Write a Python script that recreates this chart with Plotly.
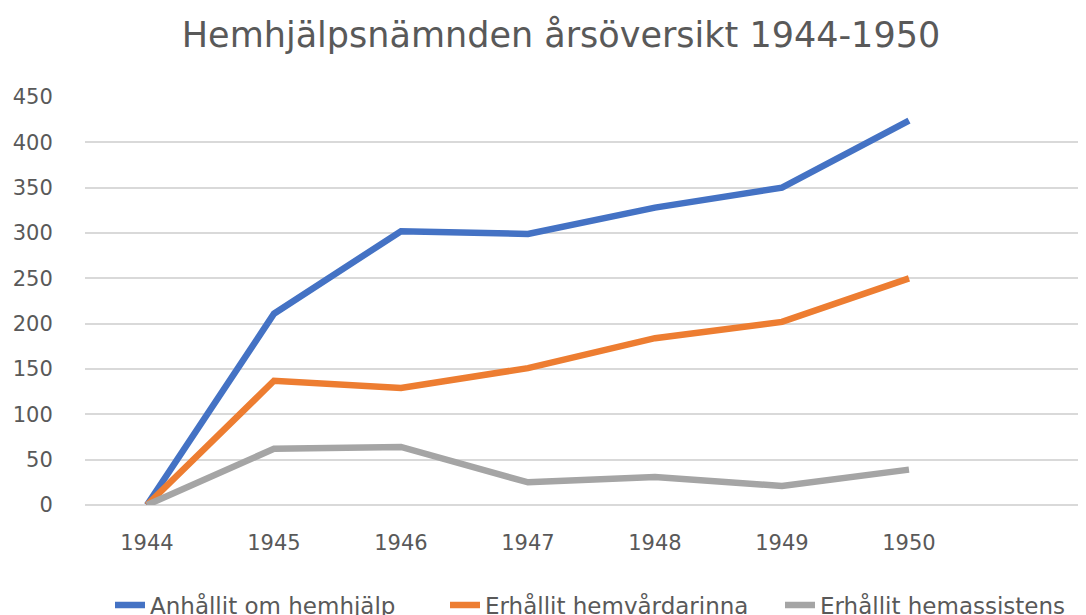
import plotly.graph_objects as go

years = [1944, 1945, 1946, 1947, 1948, 1949, 1950]
year_labels = ["1944", "1945", "1946", "1947", "1948", "1949", "1950"]
anhallit = [0, 211, 302, 299, 328, 350, 424]
hemvardarinna = [0, 137, 129, 151, 184, 202, 250]
hemassistens = [0, 62, 64, 25, 31, 21, 39]

series_names = ["Anhållit om hemhjälp", "Erhållit hemvårdarinna", "Erhållit hemassistens"]
series_values = [anhallit, hemvardarinna, hemassistens]
colors = ["#4472C4", "#ED7D31", "#A5A5A5"]

FONT = "DejaVu Sans, Open Sans, sans-serif"
TXT = "#595959"

# page body has an 8px margin, so figure coords = screen coords - 8
fig = go.Figure()
for name, vals, col in zip(series_names, series_values, colors):
    fig.add_trace(go.Scatter(
        x=years, y=vals, name=name, mode="lines",
        line=dict(color=col, width=6.5, shape="linear"),
    ))

W = 1200
PW = 1100  # plot width in px (extends past the visible window, like the reference)
fig.update_layout(
    width=W, height=615,
    paper_bgcolor="white", plot_bgcolor="white",
    margin=dict(l=77, r=W - 77 - PW, t=89, b=118, autoexpand=False),
    title=dict(
        text="Hemhjälpsnämnden årsöversikt 1944-1950",
        x=553 / W, xanchor="center", xref="container",
        y=1 - 27 / 615, yanchor="middle", yref="container",
        font=dict(family=FONT, size=35, color=TXT),
    ),
    font=dict(family=FONT, color=TXT),
    showlegend=True,
    legend=dict(
        orientation="h",
        x=(102 - 77) / PW, xanchor="left",
        y=(497 - 597) / 408, yanchor="middle",
        font=dict(family=FONT, size=23, color=TXT),
        entrywidth=290, entrywidthmode="pixels",
        bgcolor="rgba(0,0,0,0)",
        itemwidth=30,
    ),
)

fig.update_xaxes(
    range=[1943.512, 1943.512 + PW / 127.0],
    tickvals=years, ticktext=year_labels,
    showgrid=False, zeroline=False, showline=False,
    ticks="", tickfont=dict(family=FONT, size=21, color=TXT),
    ticklabelstandoff=23,
)
fig.update_yaxes(
    range=[0, 450], dtick=50, tick0=0,
    showgrid=True, gridcolor="#D9D9D9", gridwidth=1.5,
    zeroline=True, zerolinecolor="#D9D9D9", zerolinewidth=1.5,
    showline=False, ticks="outside", ticklen=27, tickcolor="rgba(0,0,0,0)",
    tickfont=dict(family=FONT, size=21, color=TXT),
)

fig.write_html("out.html")
